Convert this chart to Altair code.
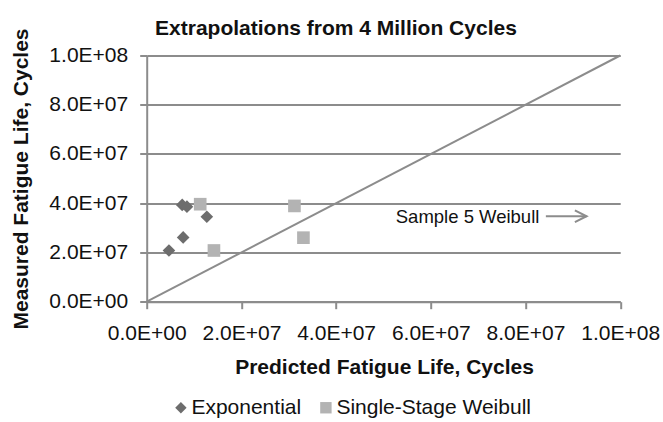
import altair as alt
import pandas as pd

# Predicted vs. measured fatigue life (cycles), extrapolated from 4 million cycles
exp_predicted = [7.5e6, 8.5e6, 1.27e7, 7.7e6, 4.7e6]
exp_measured = [3.93e7, 3.86e7, 3.45e7, 2.61e7, 2.08e7]
wb_predicted = [1.13e7, 3.12e7, 3.31e7, 1.42e7]
wb_measured = [3.96e7, 3.89e7, 2.60e7, 2.08e7]

series_names = ["Exponential", "Single-Stage Weibull"]
ticks = [0, 2e7, 4e7, 6e7, 8e7, 1e8]

FONT = "Liberation Sans"
GRAY = "#8c8c8c"

points = pd.DataFrame({
    "predicted": exp_predicted + wb_predicted,
    "measured": exp_measured + wb_measured,
    "series": [series_names[0]] * len(exp_predicted) + [series_names[1]] * len(wb_predicted),
})
parity = pd.DataFrame({"predicted": [0, 1e8], "measured": [0, 1e8]})
note = pd.DataFrame({"predicted": [5.26e7], "measured": [3.18e7], "label": ["Sample 5 Weibull"]})
arrow = pd.DataFrame({"x0": [8.43e7], "x1": [9.29e7], "y": [3.47e7]})

label_expr = "replace(format(datum.value, '.1e'), 'e+', 'E+0')"

x_scale = alt.Scale(domain=[0, 1e8], nice=False, zero=True)
y_scale = alt.Scale(domain=[0, 1e8], nice=False, zero=True)

x_axis = alt.Axis(
    title="Predicted Fatigue Life, Cycles", values=ticks, labelExpr=label_expr,
    grid=False, titleX=237.3, titleY=71.5, titleBaseline="alphabetic",
    titleAnchor="middle", titleAlign="center", labelPadding=14,
    labelOverlap=False, labelFlush=False,
)
y_axis = alt.Axis(
    title="Measured Fatigue Life, Cycles", values=ticks, labelExpr=label_expr,
    grid=True, titleX=-119, titleY=123, titleAngle=270, titleBaseline="alphabetic",
    titleAlign="center", labelPadding=12, labelOverlap=False, labelFlush=False,
)

line = alt.Chart(parity).mark_line(color=GRAY, strokeWidth=2).encode(
    x=alt.X("predicted:Q", scale=x_scale, axis=x_axis),
    y=alt.Y("measured:Q", scale=y_scale, axis=y_axis),
)

scatter = alt.Chart(points).mark_point(filled=True, size=160, opacity=1).encode(
    x=alt.X("predicted:Q", scale=x_scale),
    y=alt.Y("measured:Q", scale=y_scale),
    shape=alt.Shape("series:N", scale=alt.Scale(domain=series_names, range=["diamond", "square"]),
                    legend=alt.Legend(title=None)),
    color=alt.Color("series:N", scale=alt.Scale(domain=series_names, range=["#6d6d6d", "#b3b3b3"]),
                    legend=alt.Legend(title=None)),
)

text = alt.Chart(note).mark_text(
    align="left", baseline="alphabetic", font=FONT, fontSize=18.5, color="#111111"
).encode(
    x=alt.X("predicted:Q", scale=x_scale),
    y=alt.Y("measured:Q", scale=y_scale),
    text="label:N",
)

shaft = alt.Chart(arrow).mark_rule(color=GRAY, strokeWidth=2).encode(
    x=alt.X("x0:Q", scale=x_scale),
    x2="x1:Q",
    y=alt.Y("y:Q", scale=y_scale),
)

head = alt.Chart(arrow).mark_point(
    shape="M-1,-0.5L0,0L-1,0.5", filled=False, size=547, color=GRAY, strokeWidth=2, opacity=1
).encode(
    x=alt.X("x1:Q", scale=x_scale),
    y=alt.Y("y:Q", scale=y_scale),
)

chart = alt.layer(line, shaft, head, text, scatter).properties(
    width=473.5,
    height=246.2,
    autosize="none",
    padding={"left": 146.7, "top": 55.5, "right": 42.8, "bottom": 120.3},
    title=alt.TitleParams(
        "Extrapolations from 4 Million Cycles", anchor="middle", frame="group",
        dx=-47.5, offset=-28, baseline="alphabetic",
        font=FONT, fontSize=21, fontWeight="bold", color="#111111",
    ),
).configure_view(
    stroke=None
).configure_axis(
    domainColor=GRAY, domainWidth=2, tickColor=GRAY, tickWidth=2, tickSize=7,
    gridColor=GRAY, gridWidth=2,
    labelFont=FONT, labelFontSize=21, labelColor="#111111",
    titleFont=FONT, titleFontSize=21, titleFontWeight="bold", titleColor="#111111",
).configure_legend(
    orient="none", legendX=23.7, legendY=341.5, direction="horizontal",
    labelFont=FONT, labelFontSize=21, labelColor="#111111", labelLimit=0,
    symbolSize=130, columnPadding=14, labelOffset=0, padding=0,
)

chart.save("out.html", embed_options={"renderer": "svg", "actions": False})
